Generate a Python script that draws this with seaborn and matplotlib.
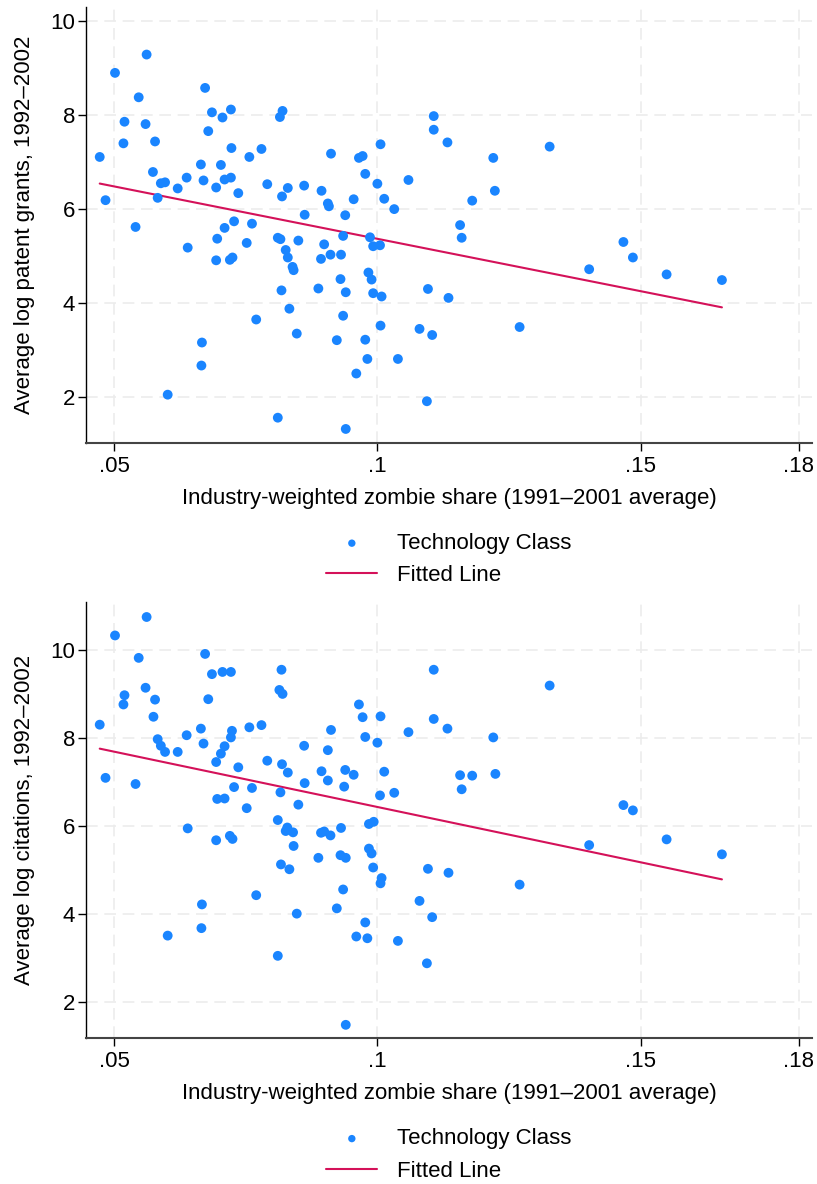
import numpy as np
import pandas as pd
import seaborn as sns
import matplotlib
matplotlib.use("Agg")
from matplotlib import pyplot as plt

# zombie share vs. average log patent grants (top panel)
x_grants = [0.0473, 0.0502, 0.0562, 0.0484, 0.0520, 0.0518, 0.0547, 0.0560, 0.0578, 0.0574,
            0.0589, 0.0597, 0.0583, 0.0541, 0.0621, 0.0638, 0.0673, 0.0686, 0.0679, 0.0706,
            0.0722, 0.0665, 0.0670, 0.0694, 0.0703, 0.0710, 0.0722, 0.0723, 0.0736, 0.0757,
            0.0780, 0.0791, 0.0815, 0.0820, 0.0819, 0.0830, 0.0861, 0.0894, 0.0906, 0.0908,
            0.0912, 0.0862, 0.0728, 0.0710, 0.0762,
            0.0640, 0.0696, 0.0694, 0.0720, 0.0725, 0.0752, 0.0811, 0.0816, 0.0850, 0.0826,
            0.0830, 0.0839, 0.0841, 0.0899, 0.0893, 0.0911, 0.0818, 0.0888, 0.0833, 0.0770,
            0.0847, 0.0667, 0.0666, 0.0602, 0.0811, 0.0923,
            0.0965, 0.0972, 0.1006, 0.0977, 0.1000, 0.1059, 0.0955, 0.1013, 0.1032, 0.0939,
            0.1107, 0.1107, 0.1133, 0.1220, 0.1327, 0.1223, 0.1180, 0.1157,
            0.1160, 0.0935, 0.0986, 0.0992, 0.1005, 0.0931, 0.0983, 0.0989, 0.0930, 0.0940,
            0.0992, 0.1008, 0.1096, 0.1135, 0.0935, 0.1006, 0.1080, 0.1104, 0.1270, 0.0977,
            0.0981, 0.1039, 0.0960, 0.1094, 0.0940,
            0.1402, 0.1467, 0.1485, 0.1549, 0.1654]
y_grants = [7.11, 8.90, 9.29, 6.19, 7.86, 7.40, 8.38, 7.81, 7.44, 6.79,
            6.55, 6.57, 6.24, 5.62, 6.44, 6.67, 8.58, 8.06, 7.66, 7.95,
            8.12, 6.95, 6.61, 6.46, 6.94, 6.63, 6.67, 7.30, 6.34, 7.11,
            7.28, 6.53, 7.96, 8.09, 6.27, 6.45, 6.50, 6.39, 6.12, 6.06,
            7.18, 5.88, 5.74, 5.60, 5.69,
            5.18, 5.37, 4.91, 4.92, 4.97, 5.28, 5.39, 5.36, 5.33, 5.13,
            4.97, 4.77, 4.70, 5.25, 4.94, 5.03, 4.27, 4.31, 3.88, 3.65,
            3.35, 3.16, 2.67, 2.05, 1.56, 3.21,
            7.09, 7.13, 7.38, 6.75, 6.54, 6.62, 6.21, 6.22, 6.00, 5.87,
            7.98, 7.69, 7.42, 7.09, 7.33, 6.39, 6.18, 5.66,
            5.39, 5.43, 5.40, 5.21, 5.23, 5.03, 4.65, 4.50, 4.51, 4.23,
            4.21, 4.14, 4.30, 4.11, 3.73, 3.52, 3.45, 3.32, 3.49, 3.22,
            2.81, 2.81, 2.50, 1.91, 1.32,
            4.72, 5.30, 4.97, 4.61, 4.49]

# zombie share vs. average log citations (bottom panel)
x_cites = [0.0473, 0.0502, 0.0562, 0.0484, 0.0520, 0.0518, 0.0547, 0.0560, 0.0578, 0.0575,
           0.0583, 0.0589, 0.0597, 0.0541, 0.0621, 0.0638, 0.0673, 0.0686, 0.0679, 0.0706,
           0.0722, 0.0665, 0.0670, 0.0694, 0.0703, 0.0710, 0.0722, 0.0724, 0.0736, 0.0757,
           0.0780, 0.0791, 0.0818, 0.0814, 0.0820, 0.0819, 0.0830, 0.0861, 0.0894, 0.0906,
           0.0906, 0.0912, 0.0862, 0.0728, 0.0696, 0.0710, 0.0762, 0.0752, 0.0816, 0.0850,
           0.0811,
           0.0640, 0.0694, 0.0720, 0.0725, 0.0829, 0.0826, 0.0840, 0.0841, 0.0893, 0.0899,
           0.0911, 0.0817, 0.0833, 0.0888, 0.0770, 0.0667, 0.0847, 0.0602, 0.0666, 0.0811,
           0.1107, 0.1327, 0.0965, 0.0972, 0.1006, 0.1107, 0.1133, 0.0977, 0.1000, 0.1059,
           0.1220, 0.0939, 0.0955, 0.0937, 0.1013, 0.1005, 0.1032, 0.1157, 0.1180, 0.1160,
           0.1224,
           0.0931, 0.0984, 0.0993, 0.0930, 0.0940, 0.0984, 0.0989, 0.0992, 0.1008, 0.1006,
           0.1096, 0.1135, 0.1270, 0.0935, 0.0923, 0.1080, 0.1104, 0.0977, 0.0960, 0.0981,
           0.1039, 0.1094, 0.0940,
           0.1402, 0.1467, 0.1485, 0.1549, 0.1654]
y_cites = [8.31, 10.34, 10.76, 7.10, 8.98, 8.77, 9.83, 9.15, 8.88, 8.49,
           7.98, 7.83, 7.69, 6.96, 7.69, 8.07, 9.92, 9.46, 8.89, 9.51,
           9.51, 8.22, 7.88, 7.46, 7.65, 7.82, 8.02, 8.17, 7.34, 8.25,
           8.30, 7.49, 9.56, 9.10, 9.01, 7.41, 7.22, 7.83, 7.25, 7.73,
           7.04, 8.19, 6.98, 6.89, 6.62, 6.63, 6.87, 6.41, 6.77, 6.49,
           6.14,
           5.95, 5.68, 5.78, 5.71, 5.97, 5.89, 5.86, 5.55, 5.85, 5.88,
           5.79, 5.13, 5.02, 5.28, 4.43, 4.22, 4.01, 3.51, 3.68, 3.05,
           9.56, 9.20, 8.77, 8.48, 8.50, 8.44, 8.22, 8.03, 7.90, 8.14,
           8.02, 7.28, 7.17, 6.90, 7.24, 6.70, 6.76, 7.16, 7.15, 6.84,
           7.19,
           5.96, 6.05, 6.10, 5.34, 5.28, 5.49, 5.38, 5.06, 4.82, 4.70,
           5.03, 4.94, 4.67, 4.56, 4.13, 4.30, 3.93, 3.81, 3.49, 3.45,
           3.39, 2.88, 1.48,
           5.57, 6.48, 6.36, 5.70, 5.36]

x_ticks = [0.05, 0.10, 0.15, 0.18]
x_ticklabels = [".05", ".1", ".15", ".18"]
y_ticks = [2, 4, 6, 8, 10]
x_title = "Industry-weighted zombie share (1991\u20132001 average)"
y_titles = ["Average log patent grants, 1992\u20132002", "Average log citations, 1992\u20132002"]

sns.set_style("white")
plt.rcParams["font.family"] = ["Liberation Sans", "DejaVu Sans"]
plt.rcParams["text.color"] = "black"
plt.rcParams["axes.labelcolor"] = "black"
plt.rcParams["xtick.color"] = "black"
plt.rcParams["ytick.color"] = "black"

dot_color = "#1A85FF"
line_color = "#D41159"
fs = 16

fig = plt.figure(figsize=(8.17, 11.84), dpi=100)
ax1 = fig.add_axes([0.1053, 0.6258, 0.8886, 0.3682])
ax2 = fig.add_axes([0.1053, 0.1233, 0.8886, 0.3682])

panels = [
    (ax1, x_grants, y_grants, (1.02, 10.30), 0.5274),
    (ax2, x_cites, y_cites, (1.18, 11.10), 0.0245),
]

for i, (ax, xs, ys, ylim, leg_y) in enumerate(panels):
    df = pd.DataFrame({"share": xs, "value": ys})
    sns.scatterplot(data=df, x="share", y="value", ax=ax, color=dot_color, s=50,
                    edgecolor="none", label="Technology Class", zorder=3)
    sns.regplot(data=df, x="share", y="value", ax=ax, scatter=False, ci=None,
                truncate=True, color=line_color, label="Fitted Line",
                line_kws={"linewidth": 1.5, "zorder": 2})
    ax.set_xlim(0.0447, 0.1825)
    ax.set_ylim(*ylim)
    ax.set_xticks(x_ticks)
    ax.set_xticklabels(x_ticklabels)
    ax.set_yticks(y_ticks)
    ax.grid(True, color="#ececec", linestyle=(0, (7, 4)), linewidth=1.2, zorder=0)
    ax.set_axisbelow(True)
    for side in ["top", "right"]:
        ax.spines[side].set_visible(False)
    ax.spines["left"].set_color("black")
    ax.spines["bottom"].set_color("#444444")
    ax.spines["left"].set_linewidth(1.0)
    ax.spines["bottom"].set_linewidth(1.5)
    ax.tick_params(axis="both", direction="out", length=6, width=1.0, labelsize=fs,
                   color="black", labelcolor="black", left=True, bottom=True)
    ax.tick_params(axis="x", pad=3)
    ax.tick_params(axis="y", pad=2)
    ax.set_xlabel(x_title, fontsize=fs, labelpad=8, color="black")
    ax.set_ylabel(y_titles[i], fontsize=fs, labelpad=11, color="black")
    leg = ax.legend(loc="center", bbox_to_anchor=(0.5496, leg_y), bbox_transform=fig.transFigure,
                    frameon=False, fontsize=fs, handlelength=2.3, handletextpad=0.9,
                    labelspacing=0.5, markerscale=0.75)
    for t in leg.get_texts():
        t.set_color("black")

fig.savefig("out.png", dpi=100)
